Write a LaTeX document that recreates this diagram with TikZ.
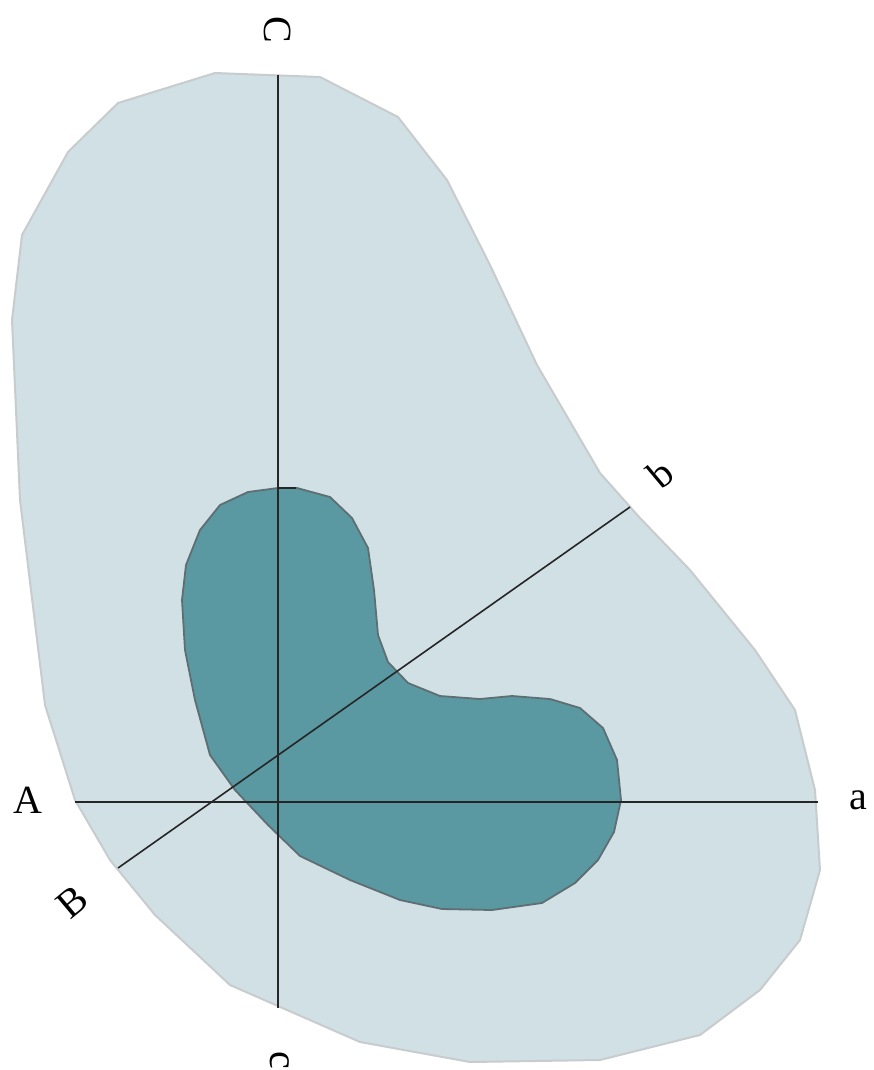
\documentclass[tikz,border=0pt]{standalone}
\usepackage{fontspec}
\setmainfont{Liberation Serif}
\usepackage{xcolor}
\usetikzlibrary{positioning}
\definecolor{outerfill}{HTML}{D0E0E5}
\definecolor{outerline}{HTML}{C8CCCE}
\definecolor{innerfill}{HTML}{5A99A2}
\definecolor{innerline}{HTML}{5E6E72}
\begin{document}
\begin{tikzpicture}[
  x=1pt, y=-1pt,
  outer/.style={draw=outerline, fill=outerfill, line width=2pt, line join=round},
  inner/.style={draw=innerline, fill=innerfill, line width=1.8pt, line join=round},
  axis/.style={draw=black!85, line width=1.6pt},
  lbl/.style={font=\fontsize{40}{48}\selectfont, inner sep=0pt}
]
\useasboundingbox (0,0) rectangle (874,1070);
% outer region
\draw[outer] (215,73) -- (320,77) -- (398,117) -- (447,180) -- (490,265) -- (537,365)
  -- (600,473) -- (640,518) -- (690,570) -- (755,650) -- (795,710) -- (815,790)
  -- (820,870) -- (800,940) -- (760,990) -- (700,1035) -- (600,1060) -- (470,1062)
  -- (360,1042) -- (230,985) -- (155,915) -- (110,860) -- (75,800) -- (45,705)
  -- (20,500) -- (12,320) -- (22,235) -- (68,152) -- (118,103) -- cycle;
% inner region
\draw[inner] (278,488) -- (297,488) -- (330,497) -- (352,518) -- (368,548) -- (374,590)
  -- (378,635) -- (388,662) -- (408,683) -- (440,696) -- (480,699) -- (512,696)
  -- (550,699) -- (580,708) -- (603,728) -- (617,760) -- (621,800) -- (614,832)
  -- (598,860) -- (575,883) -- (542,903) -- (492,910) -- (442,909) -- (400,900)
  -- (350,880) -- (300,856) -- (268,825) -- (235,790) -- (210,755) -- (195,700)
  -- (185,650) -- (182,600) -- (186,565) -- (200,530) -- (220,505) -- (248,492) -- cycle;
% axis end points
\coordinate (Cend) at (278,75);
\coordinate (cend) at (278,1008);
\coordinate (Aend) at (75,802);
\coordinate (aend) at (818,802);
\coordinate (Bend) at (118,868);
\coordinate (bend) at (630,507);
\coordinate (tickL) at (278,488);
\coordinate (tickR) at (296,488);
\draw[axis] (Cend) -- (cend);
\draw[axis] (Aend) -- (aend);
\draw[axis] (Bend) -- (bend);
\draw[axis] (tickL) -- (tickR);
% labels
\node[lbl, rotate=-90] (labC) at (278,30) {C};
\node[lbl, rotate=-90] (labc) at (280,1060) {c};
\node[lbl] (labA) at (28,800) {A};
\node[lbl] (laba) at (858,800) {a};
\node[lbl, rotate=40] (labB) at (72,902) {B};
\node[lbl, rotate=40] (labb) at (660,474) {b};
\end{tikzpicture}
\end{document}
